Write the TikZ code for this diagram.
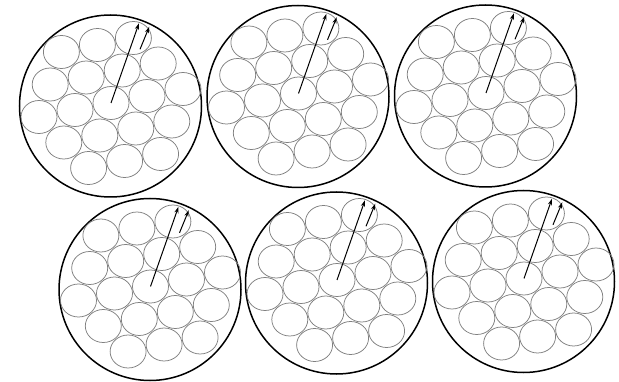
\documentclass[tikz,border=0pt]{standalone}
\usepackage{tikz}
\usetikzlibrary{arrows.meta,calc}
\definecolor{wire}{HTML}{808080}

\begin{document}
\begin{tikzpicture}[x=1pt,y=-1pt,
    rim/.style={black,line width=1.5pt},
    strand/.style={wire,line width=0.75pt},
    radius arrow/.style={black,line width=1pt,-{Stealth[length=6.5pt,width=4pt]}}]
  \useasboundingbox (0,0) rectangle (619,382);

  % Six packings: outer rim, 19 strands, radius arrows
  \foreach \n/\cx/\cy in {1/110.5/106, 2/298/96.5, 3/485.5/96, 4/150/289.5, 5/336.5/283, 6/523.5/281.5} {
    \coordinate (rim\n) at (\cx,\cy);
    \coordinate (mid\n) at ($(rim\n)+(0.5,-3)$);
    \draw[rim] (rim\n) circle (91);
    % hexagonal bundle
    \foreach \i/\j in {-2/2,-1/2,0/2, -2/1,-1/1,0/1,1/1, -2/0,-1/0,0/0,1/0,2/0, -1/-1,0/-1,1/-1,2/-1, 0/-2,1/-2,2/-2}
      \draw[strand] ($(mid\n)+(\i*36,-\i*7)+(\j*11.2,-\j*32.5)$) circle [x radius=18, y radius=16.5];
    % big radius and small radius
    \coordinate (tipR\n) at ($(rim\n)+(28.5,-82.8)$);
    \coordinate (tailr\n) at ($(rim\n)+(29.5,-56.7)$);
    \coordinate (tipr\n) at ($(rim\n)+(38.8,-79.3)$);
    \draw[radius arrow] (mid\n) -- (tipR\n);
    \draw[radius arrow] (tailr\n) -- (tipr\n);
  }
\end{tikzpicture}
\end{document}
